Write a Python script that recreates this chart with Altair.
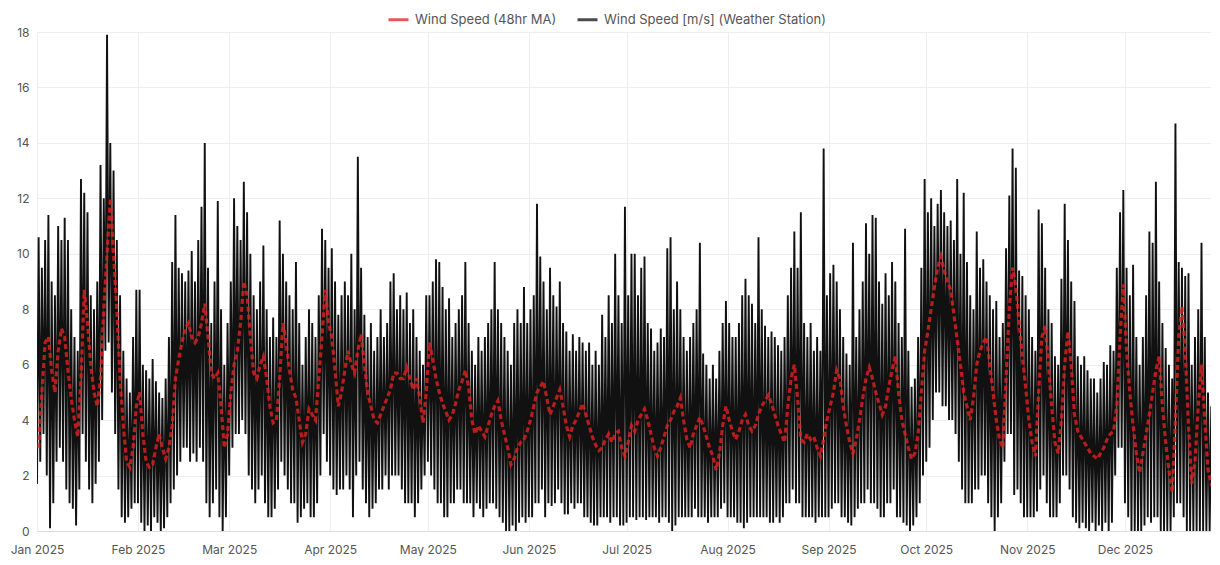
import altair as alt
import pandas as pd

MA_LABEL = "Wind Speed (48hr MA)"
WS_LABEL = "Wind Speed [m/s] (Weather Station)"

# Daily values (day 0 = 1 Jan 2025)
# Daily high of the station wind speed
HI = [
    10.6,9.5,10.5,11.4,9.0,8.5,11.0,10.5,11.3,10.5,8.0,7.0,6.5,12.7,12.2,11.5,8.5,8.0,9.0,13.2,12.0,17.9,14.0,13.0,10.5,8.5,6.5,5.5,5.0,7.0,8.7,
    8.7,6.0,5.8,5.5,6.2,5.4,5.0,4.8,5.5,7.0,9.7,11.4,9.5,9.3,9.0,9.4,10.1,9.0,10.5,11.7,14.0,9.5,7.5,9.0,11.9,8.0,6.0,7.5,
    9.0,12.0,11.0,10.5,12.6,11.5,10.0,8.5,8.0,9.0,10.3,8.0,7.0,7.7,7.0,11.2,10.0,9.0,8.5,8.0,9.7,7.5,6.0,7.0,8.0,7.5,7.0,8.5,10.9,10.5,9.5,
    10.2,9.0,7.8,8.5,9.0,8.5,10.0,8.0,13.5,9.5,7.8,7.0,7.5,6.5,7.0,8.0,7.0,7.5,9.0,9.3,8.0,8.5,8.0,8.6,7.5,8.0,7.0,6.5,6.0,8.5,
    8.5,9.0,9.8,9.7,8.8,8.0,8.4,7.0,7.5,8.0,8.5,9.7,7.5,6.5,6.0,7.0,6.5,7.0,7.5,8.0,9.7,8.0,7.5,7.0,6.5,6.0,7.5,8.0,7.5,8.8,7.5,
    8.0,8.5,11.8,9.9,9.0,8.0,9.5,8.5,8.1,9.0,7.5,7.2,6.5,7.1,6.5,7.0,6.8,6.5,6.8,6.0,6.5,6.0,7.8,7.0,8.5,7.5,10.0,8.5,7.5,11.7,
    8.5,10.0,10.0,8.5,9.5,9.9,7.5,7.3,6.5,6.8,7.3,7.0,10.2,10.6,8.0,9.0,8.0,7.0,6.5,7.0,7.5,8.0,10.4,6.4,6.0,5.5,6.0,5.5,6.5,7.5,8.3,
    7.5,7.0,7.0,7.5,8.5,9.1,8.5,8.2,7.5,10.6,8.0,7.4,7.0,7.2,7.0,6.7,6.5,7.0,8.5,9.5,10.8,9.5,11.5,7.5,7.0,7.5,6.5,7.0,6.5,13.8,8.5,
    9.3,9.6,9.0,8.0,7.0,6.4,6.0,10.4,7.0,8.0,9.0,11.1,10.0,11.4,11.3,9.0,8.2,9.3,8.5,9.7,9.0,7.5,7.0,10.9,6.5,5.2,5.5,7.0,9.5,12.7,
    11.5,12.0,11.0,11.8,12.3,11.5,11.0,11.2,10.5,12.7,10.0,12.2,9.7,8.5,8.0,10.8,9.5,9.8,9.0,8.5,8.0,8.3,7.0,7.5,10.2,12.1,13.8,13.1,9.4,9.2,8.5,
    8.0,7.0,6.5,11.6,11.1,9.5,8.0,7.5,6.3,6.0,9.1,11.8,10.5,9.0,8.3,6.3,6.0,6.3,5.8,5.5,5.5,5.0,5.5,6.1,6.0,6.7,6.5,9.5,11.5,12.3,
    9.5,8.5,9.6,7.0,6.0,7.0,8.5,10.8,10.4,12.6,9.0,7.5,6.6,6.0,5.5,14.7,9.7,9.5,9.2,9.3,6.0,7.0,8.0,10.4,7.0,5.0,4.5,5.0,4.2,4.0,4.0,
]
# Daily low of the station wind speed
LO = [
    1.7,2.5,3.5,2.0,0.1,1.0,2.5,3.0,2.5,1.5,1.0,0.8,0.2,1.5,3.5,2.5,1.5,1.0,1.7,2.5,4.0,6.5,6.8,5.0,3.5,1.5,0.5,0.3,0.5,0.8,1.0,
    1.0,0.3,0.0,0.2,0.0,0.5,0.3,0.0,0.1,0.5,1.0,1.5,2.0,2.5,3.0,3.0,2.5,2.8,2.5,3.0,2.5,1.0,0.5,1.0,1.5,0.5,0.0,0.5,
    2.0,3.0,3.5,3.5,4.0,3.5,2.0,1.5,1.0,1.5,2.0,1.0,0.5,0.5,0.8,1.5,2.5,2.0,1.5,1.0,1.0,0.3,0.5,0.8,1.0,0.5,0.5,1.0,2.0,3.5,2.5,
    2.0,1.5,1.3,1.5,1.5,2.0,1.5,0.5,2.0,2.5,1.5,1.0,0.5,0.8,1.0,1.5,1.5,2.0,1.5,2.0,2.0,2.0,1.5,1.0,1.0,1.0,0.5,1.0,1.5,2.0,
    2.5,2.0,1.5,1.0,1.0,0.5,0.5,1.0,1.0,1.5,1.5,1.0,1.0,1.0,0.5,1.0,0.8,0.5,0.8,1.0,1.0,0.8,0.5,0.3,0.0,0.0,0.2,0.0,0.3,0.5,0.3,
    0.5,0.5,1.0,1.0,1.5,0.5,1.0,0.9,1.0,1.5,1.0,0.6,0.6,1.0,0.8,1.0,1.0,0.5,0.5,0.3,0.2,0.2,0.5,0.5,0.5,0.3,0.5,0.5,0.2,0.2,
    0.3,0.5,0.5,0.4,0.5,0.5,0.4,0.5,0.5,0.5,0.3,0.5,0.5,0.3,0.0,0.2,0.5,0.5,0.5,0.5,0.5,0.8,0.5,0.5,0.5,0.3,0.5,0.5,0.5,0.8,1.0,
    0.5,0.5,0.5,0.3,0.3,0.1,0.3,0.5,0.5,0.5,0.5,0.5,0.5,0.3,0.3,0.5,0.3,0.5,1.0,1.0,1.5,1.0,1.0,0.5,0.5,0.5,0.5,0.3,0.5,0.5,0.5,
    0.5,0.8,1.0,1.0,0.5,0.5,0.3,0.2,0.5,0.8,1.0,1.0,1.5,1.0,1.0,0.8,0.5,0.5,1.0,1.0,1.5,0.5,0.5,0.3,0.2,0.0,0.2,0.5,1.0,2.0,
    2.5,3.0,4.0,5.0,5.0,4.5,4.5,4.0,4.0,3.5,2.5,1.5,1.0,1.0,1.0,1.5,1.5,2.0,2.0,1.0,0.5,0.0,0.5,1.0,2.5,3.5,3.5,1.3,1.5,1.0,0.5,
    0.5,0.5,0.5,0.7,1.5,2.0,1.0,0.5,0.5,0.5,1.0,2.0,2.0,1.5,0.5,0.3,0.1,0.3,0.1,0.0,0.3,0.0,0.2,0.0,0.3,0.0,0.3,2.0,3.0,3.0,
    1.0,0.5,0.0,0.0,0.0,0.0,0.2,0.5,0.3,0.5,0.5,0.0,0.0,0.0,0.0,0.5,1.0,1.0,0.5,0.0,0.0,0.0,0.0,0.0,0.0,0.0,0.0,0.0,0.0,0.0,0.0,
]
# 48hr moving average
MA = [
    3.0,5.0,6.8,7.0,5.8,5.0,6.5,7.3,7.0,5.8,4.8,4.0,3.4,5.5,8.7,7.5,6.0,5.0,4.5,5.5,8.0,10.0,12.0,10.0,8.0,5.5,3.8,2.5,2.3,3.0,4.5,
    5.0,3.5,2.5,2.3,2.4,3.0,3.5,3.0,2.6,3.0,3.8,5.5,6.2,6.8,7.3,7.5,7.0,6.8,7.0,7.5,8.2,7.0,5.7,5.5,5.7,4.5,3.0,3.5,
    5.0,6.0,6.5,7.5,9.0,8.5,7.0,5.7,5.5,6.0,6.3,5.5,4.5,3.9,4.0,5.5,7.5,6.8,5.8,5.1,4.8,4.0,3.2,3.5,4.4,4.2,4.0,5.5,7.0,8.7,7.5,
    7.0,5.8,4.5,5.0,5.8,6.5,6.0,5.7,6.5,7.1,6.0,5.0,4.5,4.0,3.9,4.2,4.5,4.8,5.1,5.7,5.7,5.5,5.5,5.9,5.5,5.1,5.5,4.8,3.9,5.0,
    6.8,6.2,5.5,5.0,4.6,4.3,4.0,4.2,4.6,5.1,5.4,5.8,5.2,4.0,3.5,3.8,3.6,3.4,3.8,4.2,4.5,4.7,4.0,3.5,3.0,2.4,2.6,3.0,3.2,3.3,3.6,
    4.0,4.5,5.0,5.2,5.4,4.8,4.2,4.5,4.8,5.1,4.5,3.8,3.4,3.8,4.0,4.3,4.6,4.2,3.8,3.4,3.1,2.9,3.0,3.3,3.5,3.2,3.5,3.6,3.0,2.7,
    3.2,3.8,3.6,4.0,4.2,4.4,4.0,3.5,3.0,2.7,3.0,3.4,3.8,4.0,4.3,4.5,4.8,4.0,3.3,3.0,3.5,3.8,4.1,3.8,3.4,3.0,2.7,2.2,2.8,3.8,4.5,
    4.0,3.6,3.3,3.6,4.0,4.2,3.8,3.6,3.8,4.2,4.5,4.7,4.9,4.6,4.2,3.8,3.5,3.2,4.5,5.5,6.0,4.8,3.3,3.2,3.5,3.3,3.4,3.0,2.7,3.3,4.0,
    4.5,5.0,5.8,5.5,4.5,3.8,3.2,2.8,3.3,4.0,4.8,5.5,5.9,5.5,5.0,4.6,4.2,4.5,5.2,5.8,6.3,5.0,4.0,3.5,3.0,2.6,2.8,3.5,5.0,6.5,
    7.2,8.0,8.8,9.5,9.9,9.4,9.0,8.7,7.8,6.9,6.0,5.0,4.5,4.0,4.8,6.0,6.5,6.8,7.0,6.0,5.0,4.0,3.3,3.0,5.5,8.0,9.5,8.8,7.5,6.3,5.2,
    4.0,3.2,2.7,5.0,7.0,7.4,6.0,4.5,3.2,2.8,4.0,6.0,7.2,6.0,4.2,3.6,3.4,3.2,3.0,2.8,2.7,2.6,2.8,3.0,3.3,3.5,3.6,4.5,7.0,8.9,
    6.5,5.0,3.8,2.8,2.1,2.8,3.5,4.2,5.0,5.8,6.3,4.5,3.2,2.2,1.4,4.0,7.0,8.1,6.5,3.8,1.7,2.5,4.5,6.0,4.0,2.2,1.7,1.8,1.8,2.0,2.0,
]
Y_TICKS = [0, 2, 4, 6, 8, 10, 12, 14, 16, 18]

start = pd.Timestamp("2025-01-01")
ws_rows = []
for d, (lo, hi) in enumerate(zip(LO, HI)):
    ws_rows.append({"t": (start + pd.Timedelta(hours=24 * d)).strftime("%Y-%m-%dT%H:%M:%S"), "v": lo, "s": WS_LABEL})
    ws_rows.append({"t": (start + pd.Timedelta(hours=24 * d + 12)).strftime("%Y-%m-%dT%H:%M:%S"), "v": hi, "s": WS_LABEL})
ma_rows = []
for d, m in enumerate(MA):
    ma_rows.append({"t": (start + pd.Timedelta(hours=24 * d + 12)).strftime("%Y-%m-%dT%H:%M:%S"), "v": m, "s": MA_LABEL})

ws_df = pd.DataFrame(ws_rows)
ma_df = pd.DataFrame(ma_rows)

FONT = "Inter"

color = alt.Color(
    "s:N",
    scale=alt.Scale(domain=[MA_LABEL, WS_LABEL], range=["#e02020", "#111111"]),
    legend=alt.Legend(
        orient="none", legendX=350, legendY=-24, direction="horizontal", title=None,
        padding=0, symbolType="stroke", symbolSize=400, symbolStrokeWidth=3, symbolDash=[1, 0],
        symbolOpacity=0.75, labelFontSize=13, labelColor="#555555", labelFont=FONT,
        columnPadding=14, labelOffset=5, labelLimit=600,
    ),
)

x = alt.X(
    "t:T", title=None,
    scale=alt.Scale(domain=[alt.DateTime(year=2025, month=1, date=1),
                            alt.DateTime(year=2025, month=12, date=27, hours=10)]),
    axis=alt.Axis(format="%b %Y", tickCount={"interval": "month", "step": 1},
                  labelFontSize=12, labelColor="#555555", labelFont=FONT, ticks=False,
                  domainColor="#dddddd", gridColor="#eeeeee", labelPadding=13,
                  labelFlush=False, labelOverlap=False),
)
y = alt.Y(
    "v:Q", title=None,
    scale=alt.Scale(domain=[0, 18], nice=False),
    axis=alt.Axis(values=Y_TICKS, domain=False, ticks=False, labelPadding=8,
                  gridColor="#eeeeee", labelColor="#555555", labelFontSize=12, labelFont=FONT),
)

ws = alt.Chart(ws_df).mark_line(strokeWidth=1.9, opacity=1, clip=True).encode(x=x, y=y, color=color)
ma = alt.Chart(ma_df).mark_line(strokeWidth=3.2, strokeDash=[5, 3], opacity=0.8, clip=True).encode(x=x, y=y, color=color)

chart = alt.layer(ws, ma).properties(
    width=1174, height=499, autosize="none",
    padding={"left": 29, "top": 24, "right": 0, "bottom": 25},
    background="white",
).configure_view(strokeWidth=0)

chart.save("out.html", embed_options={"renderer": "svg", "actions": False})
